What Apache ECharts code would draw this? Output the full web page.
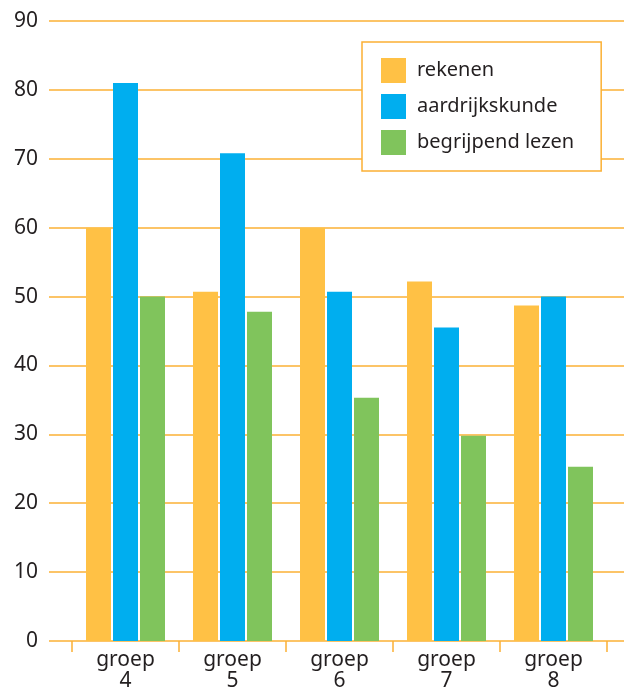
<!DOCTYPE html>
<html>
<head>
<meta charset="utf-8">
<script src="https://cdn.jsdelivr.net/npm/echarts@6/dist/echarts.min.js"></script>
<style>
  html, body { margin: 0; padding: 0; background: #fff; }
  #myChart { width: 624px; height: 688px; }
</style>
</head>
<body>
<div id="myChart"></div>
<script>
// categories + values
var groepen = ['groep\n4', 'groep\n5', 'groep\n6', 'groep\n7', 'groep\n8'];
var rekenen = [60, 50.7, 60, 52.2, 48.7];
var aardrijkskunde = [81, 70.8, 50.7, 45.5, 50];
var begrijpendLezen = [50, 47.8, 35.3, 29.8, 25.3];
var seriesNames = ['rekenen', 'aardrijkskunde', 'begrijpend lezen'];

var oranje = '#FBB034';
var tekst = '#231F20';
var font = 'Noto Sans';

var chart = echarts.init(document.getElementById('myChart'));

chart.setOption({
  animation: false,
  color: ['#FFC145', '#00AEEF', '#80C45C'],
  textStyle: { fontFamily: font },
  grid: [
    // bars
    { left: 72, width: 535, top: 21, bottom: 47, outerBoundsMode: 'none' },
    // background lines, full width
    { left: 49, right: 0, top: 21, bottom: 47, outerBoundsMode: 'none' }
  ],
  legend: {
    data: seriesNames,
    orient: 'vertical',
    left: 362,
    top: 42,
    padding: [16, 27, 16, 19],
    itemWidth: 25,
    itemHeight: 25,
    itemGap: 11,
    icon: 'rect',
    backgroundColor: '#fff',
    borderColor: oranje,
    borderWidth: 1.5,
    textStyle: { color: tekst, fontSize: 20, fontFamily: font, padding: [0, 0, 0, 6] }
  },
  xAxis: [
    {
      type: 'category',
      gridIndex: 0,
      data: groepen,
      boundaryGap: true,
      axisLine: { show: false },
      axisTick: { show: true, length: 11, lineStyle: { color: oranje, width: 1.5 } },
      axisLabel: { color: tekst, fontSize: 21, lineHeight: 21, margin: 9, fontFamily: font }
    },
    {
      type: 'value',
      gridIndex: 1,
      show: false
    }
  ],
  yAxis: [
    {
      type: 'value',
      gridIndex: 0,
      min: 0, max: 90, interval: 10,
      show: false
    },
    {
      type: 'value',
      gridIndex: 1,
      min: 0, max: 90, interval: 10,
      axisLine: { show: false },
      axisTick: { show: false },
      axisLabel: { color: tekst, fontSize: 21, margin: 11, fontFamily: font },
      splitLine: { show: true, lineStyle: { color: oranje, width: 1.5 } }
    }
  ],
  series: [
    { name: seriesNames[0], type: 'bar', xAxisIndex: 0, yAxisIndex: 0, data: rekenen, barWidth: 25, barGap: '8%' },
    { name: seriesNames[1], type: 'bar', xAxisIndex: 0, yAxisIndex: 0, data: aardrijkskunde, barWidth: 25, barGap: '8%' },
    { name: seriesNames[2], type: 'bar', xAxisIndex: 0, yAxisIndex: 0, data: begrijpendLezen, barWidth: 25, barGap: '8%' }
  ]
});
</script>
</body>
</html>
